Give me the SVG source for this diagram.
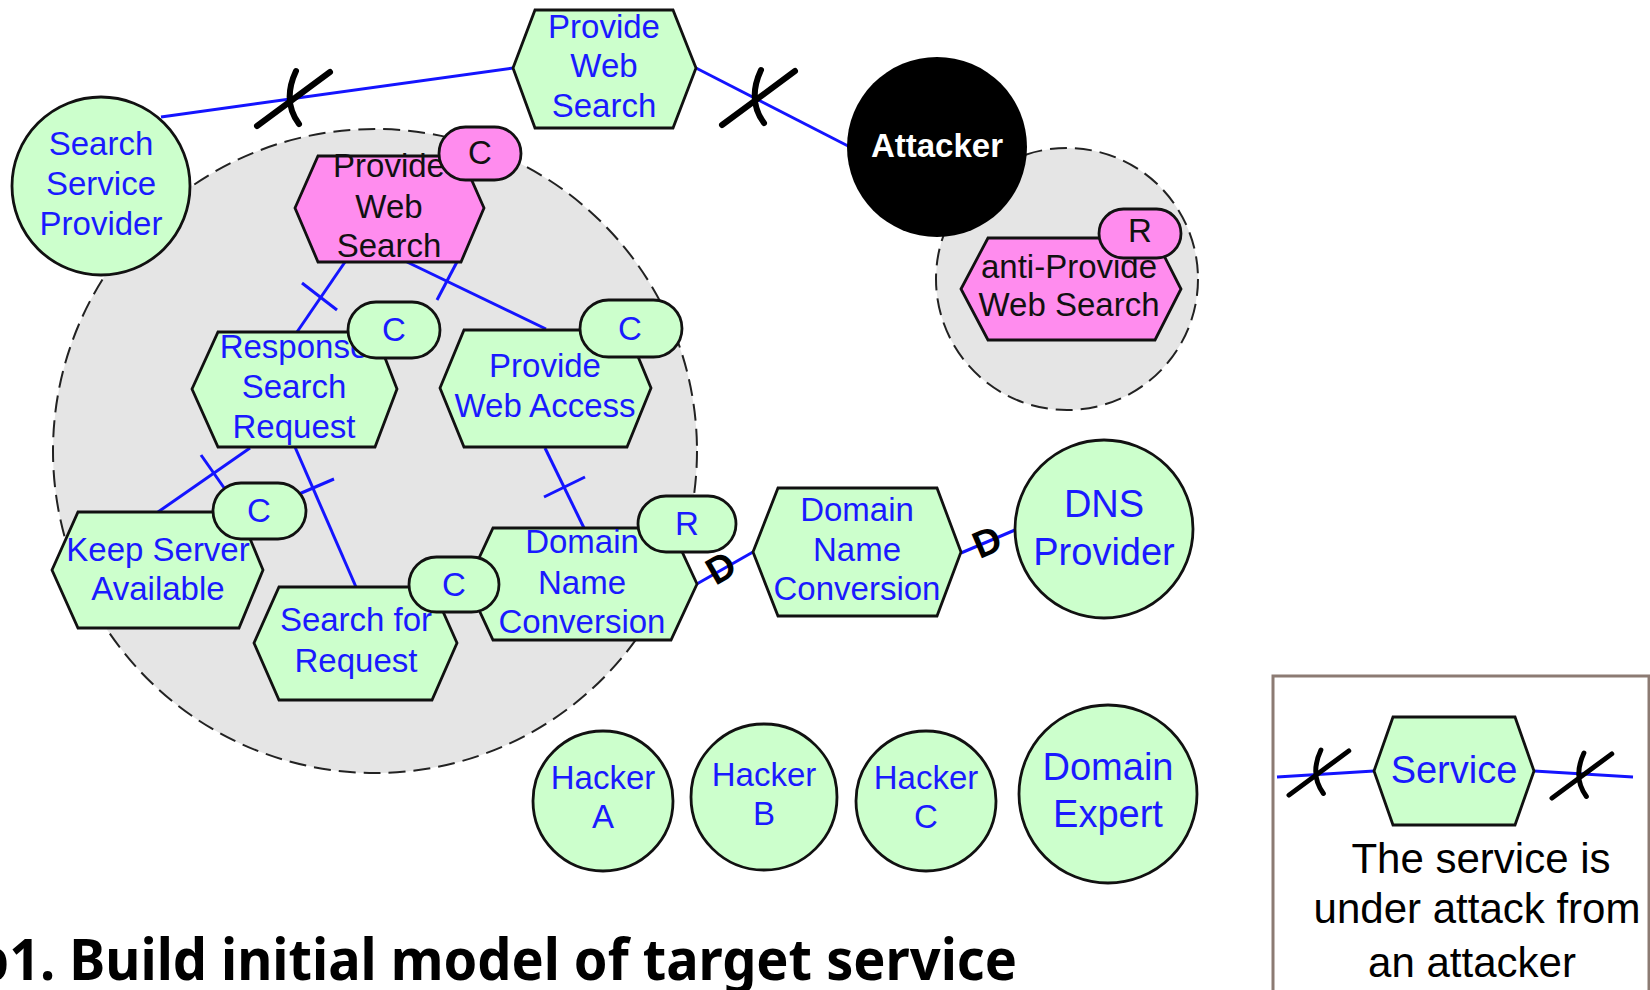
<svg xmlns="http://www.w3.org/2000/svg" width="1650" height="990" viewBox="0 0 1650 990">
<defs>
<style>
.zone{fill:#e5e5e5;stroke:#222;stroke-width:2;stroke-dasharray:17 8}
.hg{fill:#ccffcc;stroke:#111;stroke-width:2.8}
.hp{fill:#ff8cee;stroke:#111;stroke-width:2.8}
.actor{fill:#ccffcc;stroke:#111;stroke-width:2.8}
.lbl{font-family:"Liberation Sans",Arial,sans-serif;font-size:33px;fill:#1a1aff;text-anchor:middle}
.big{font-size:38px}
.blk{fill:#111}
.conn{stroke:#1414ff;stroke-width:3;fill:none}
.xm{stroke:#000;stroke-width:6;stroke-linecap:round;fill:none}
.dm{font-family:"Liberation Sans",Arial,sans-serif;font-size:38px;font-weight:bold;fill:#000;text-anchor:middle}
</style>
<g id="xmark"><path class="xm" d="M-33,27 L40,-27 M6,-28 Q-8,2 9,25"/></g>
</defs>
<rect width="1650" height="990" fill="#fff"/>

<g id="zones">
<circle class="zone" cx="375" cy="451" r="322"/>
<circle class="zone" cx="1067" cy="279" r="131"/>
</g>

<g id="connectors">
<line class="conn" x1="161" y1="117" x2="513" y2="68"/>
<line class="conn" x1="696" y1="68" x2="850" y2="147"/>
<line class="conn" x1="345" y1="262" x2="297" y2="332"/>
<line class="conn" x1="302" y1="283" x2="337" y2="310"/>
<line class="conn" x1="407" y1="262" x2="546" y2="329"/>
<line class="conn" x1="458" y1="260" x2="437" y2="300"/>
<line class="conn" x1="250" y1="448" x2="158" y2="512"/>
<line class="conn" x1="201" y1="455" x2="227" y2="492"/>
<line class="conn" x1="295" y1="447" x2="356" y2="587"/>
<line class="conn" x1="292" y1="497" x2="334" y2="479"/>
<line class="conn" x1="545" y1="448" x2="584" y2="528"/>
<line class="conn" x1="544" y1="497" x2="585" y2="477"/>
<line class="conn" x1="695" y1="585" x2="753" y2="552"/>
<line class="conn" x1="961" y1="553" x2="1015" y2="530"/>
<use href="#xmark" transform="translate(290,99)"/>
<use href="#xmark" transform="translate(755,98)"/>
<text class="dm" transform="translate(721,568) rotate(-30)" y="13">D</text>
<text class="dm" transform="translate(987,542) rotate(-23)" y="13">D</text>
</g>

<g id="search-service-provider">
<circle class="actor" cx="101" cy="186" r="89"/>
<text class="lbl" x="101" y="155">Search</text>
<text class="lbl" x="101" y="195">Service</text>
<text class="lbl" x="101" y="235">Provider</text>
</g>

<g id="provide-web-search-top">
<polygon class="hg" points="513,68 535,10 673,10 696,68 673,128 535,128"/>
<text class="lbl" x="604" y="38">Provide</text>
<text class="lbl" x="604" y="77">Web</text>
<text class="lbl" x="604" y="117">Search</text>
</g>

<g id="attacker">
<circle cx="937" cy="147" r="90" fill="#000"/>
<text x="937" y="157" font-family="Liberation Sans,Arial,sans-serif" font-size="33" font-weight="bold" fill="#fff" text-anchor="middle">Attacker</text>
</g>

<g id="anti-provide-web-search">
<polygon class="hp" points="961,289 988,238 1155,238 1181,289 1155,340 988,340"/>
<text class="lbl blk" x="1069" y="278">anti-Provide</text>
<text class="lbl blk" x="1069" y="316">Web Search</text>
<rect class="hp" x="1099" y="209" width="82" height="49" rx="24.5"/>
<text class="lbl blk" x="1140" y="242">R</text>
</g>

<g id="provide-web-search-inner">
<polygon class="hp" points="295,208 318,156 461,156 484,208 461,262 318,262"/>
<text class="lbl blk" x="389" y="177">Provide</text>
<text class="lbl blk" x="389" y="218">Web</text>
<text class="lbl blk" x="389" y="257">Search</text>
<rect class="hp" x="439" y="127" width="82" height="53" rx="26.5"/>
<text class="lbl blk" x="480" y="164">C</text>
</g>

<g id="response-search-request">
<polygon class="hg" points="192,389 218,332 375,332 397,389 375,447 218,447"/>
<text class="lbl" x="294" y="358">Response</text>
<text class="lbl" x="294" y="398">Search</text>
<text class="lbl" x="294" y="438">Request</text>
<rect class="hg" x="348" y="302" width="92" height="56" rx="28"/>
<text class="lbl" x="394" y="341">C</text>
</g>

<g id="provide-web-access">
<polygon class="hg" points="440,388 464,330 627,330 651,388 627,447 464,447"/>
<text class="lbl" x="545" y="377">Provide</text>
<text class="lbl" x="545" y="417">Web Access</text>
<rect class="hg" x="580" y="300" width="102" height="57" rx="28.5"/>
<text class="lbl" x="630" y="340">C</text>
</g>

<g id="keep-server-available">
<polygon class="hg" points="52,570 78,512 239,512 263,570 239,628 78,628"/>
<text class="lbl" x="158" y="561">Keep Server</text>
<text class="lbl" x="158" y="600">Available</text>
<rect class="hg" x="213" y="483" width="93" height="56" rx="28"/>
<text class="lbl" x="259" y="522">C</text>
</g>

<g id="domain-name-conversion-inner">
<polygon class="hg" points="467,584 493,528 671,528 697,584 671,640 493,640"/>
<text class="lbl" x="582" y="553">Domain</text>
<text class="lbl" x="582" y="594">Name</text>
<text class="lbl" x="582" y="633">Conversion</text>
<rect class="hg" x="638" y="496" width="98" height="56" rx="28"/>
<text class="lbl" x="687" y="535">R</text>
</g>

<g id="search-for-request">
<polygon class="hg" points="254,643 279,587 432,587 457,643 432,700 279,700"/>
<text class="lbl" x="356" y="631">Search for</text>
<text class="lbl" x="356" y="672">Request</text>
<rect class="hg" x="409" y="557" width="90" height="55" rx="27.5"/>
<text class="lbl" x="454" y="596">C</text>
</g>

<g id="domain-name-conversion-outer">
<polygon class="hg" points="753,552 778,488 937,488 961,552 937,616 778,616"/>
<text class="lbl" x="857" y="521">Domain</text>
<text class="lbl" x="857" y="561">Name</text>
<text class="lbl" x="857" y="600">Conversion</text>
</g>

<g id="dns-provider">
<circle class="actor" cx="1104" cy="529" r="89"/>
<text class="lbl big" x="1104" y="517">DNS</text>
<text class="lbl big" x="1104" y="565">Provider</text>
</g>

<g id="hacker-a">
<circle class="actor" cx="603" cy="801" r="70"/>
<text class="lbl" x="603" y="789">Hacker</text>
<text class="lbl" x="603" y="828">A</text>
</g>
<g id="hacker-b">
<circle class="actor" cx="764" cy="797" r="73"/>
<text class="lbl" x="764" y="786">Hacker</text>
<text class="lbl" x="764" y="825">B</text>
</g>
<g id="hacker-c">
<circle class="actor" cx="926" cy="801" r="70"/>
<text class="lbl" x="926" y="789">Hacker</text>
<text class="lbl" x="926" y="828">C</text>
</g>
<g id="domain-expert">
<circle class="actor" cx="1108" cy="794" r="89"/>
<text class="lbl big" x="1108" y="780">Domain</text>
<text class="lbl big" x="1108" y="827">Expert</text>
</g>

<g id="legend">
<rect x="1273" y="676" width="376" height="330" fill="#fff" stroke="#8c7b73" stroke-width="3"/>
<line class="conn" x1="1277" y1="777" x2="1374" y2="771"/>
<line class="conn" x1="1534" y1="771" x2="1633" y2="777"/>
<use href="#xmark" transform="translate(1316,773) scale(0.82)"/>
<use href="#xmark" transform="translate(1579,776) scale(0.82)"/>
<polygon class="hg" points="1374,771 1393,717 1515,717 1534,771 1515,825 1393,825"/>
<text class="lbl big" x="1454" y="783">Service</text>
<text x="1481" y="873" font-family="Liberation Sans,Arial,sans-serif" font-size="42" fill="#000" text-anchor="middle">The service is</text>
<text x="1477" y="923" font-family="Liberation Sans,Arial,sans-serif" font-size="42" fill="#000" text-anchor="middle">under attack from</text>
<text x="1472" y="977" font-family="Liberation Sans,Arial,sans-serif" font-size="42" fill="#000" text-anchor="middle">an attacker</text>
</g>

<g id="title">
<text x="-25" y="980" font-family="Noto Sans,Open Sans,sans-serif" font-size="57" font-weight="bold" fill="#000" textLength="1042" lengthAdjust="spacingAndGlyphs">p1. Build initial model of target service</text>
</g>
</svg>
